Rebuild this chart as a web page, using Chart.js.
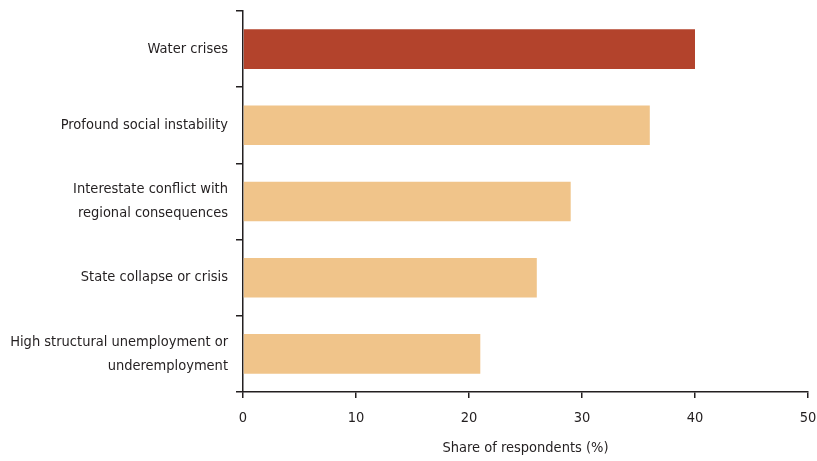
<html>
<head>
<script src="https://cdn.jsdelivr.net/npm/chart.js@4/dist/chart.umd.min.js"></script>
<style>
  body { margin: 0; background: #fff; }
  #wrap { width: 817px; height: 461px; }
</style>
</head>
<body>
<div id="wrap"><canvas id="myChart" width="817" height="461"></canvas></div>
<script>
var categories = [
  "Water crises",
  "Profound social instability",
  ["Interestate conflict with", "regional consequences"],
  "State collapse or crisis",
  ["High structural unemployment or", "underemployment"]
];
var shares = [40, 36, 29, 26, 21];
var barColors = ["#b3432c", "#f0c48a", "#f0c48a", "#f0c48a", "#f0c48a"];
var xTicks = [0, 10, 20, 30, 40, 50];

var font = "'DejaVu Sans Condensed', sans-serif";
var ink = "#231f20";

var ctx = document.getElementById('myChart').getContext('2d');
var myChart = new Chart(ctx, {
  type: 'bar',
  data: {
    labels: categories,
    datasets: [{
      data: shares,
      backgroundColor: barColors,
      borderWidth: 0,
      barPercentage: 0.52,
      categoryPercentage: 1.0
    }]
  },
  options: {
    indexAxis: 'y',
    responsive: false,
    animation: false,
    layout: { padding: { top: 11, right: 9, left: 0, bottom: 0 } },
    plugins: { legend: { display: false }, tooltip: { enabled: false } },
    scales: {
      x: {
        min: 0,
        max: 50,
        afterBuildTicks: function(scale) {
          scale.ticks = xTicks.map(function(v) { return { value: v }; });
        },
        afterFit: function(scale) {
          scale.height = 69;
          scale.paddingLeft = 0;
          scale.paddingRight = 0;
        },
        grid: { drawOnChartArea: false, tickLength: 6, color: ink, lineWidth: 1.5 },
        border: { color: ink, width: 1.5 },
        ticks: { color: ink, font: { family: font, size: 14.5 }, padding: 12 },
        title: {
          display: true,
          text: "Share of respondents (%)",
          color: ink,
          font: { family: font, size: 14.5 },
          padding: { top: 2, bottom: 4 }
        }
      },
      y: {
        afterFit: function(scale) {
          scale.width = 243;
          scale.paddingTop = 0;
          scale.paddingBottom = 0;
        },
        grid: { drawOnChartArea: false, tickLength: 7, color: ink, lineWidth: 1.5, offset: true },
        border: { color: ink, width: 1.5 },
        ticks: { color: ink, font: { family: font, size: 14.5, lineHeight: 1.65 }, padding: 8 }
      }
    }
  }
});
</script>
</body>
</html>
